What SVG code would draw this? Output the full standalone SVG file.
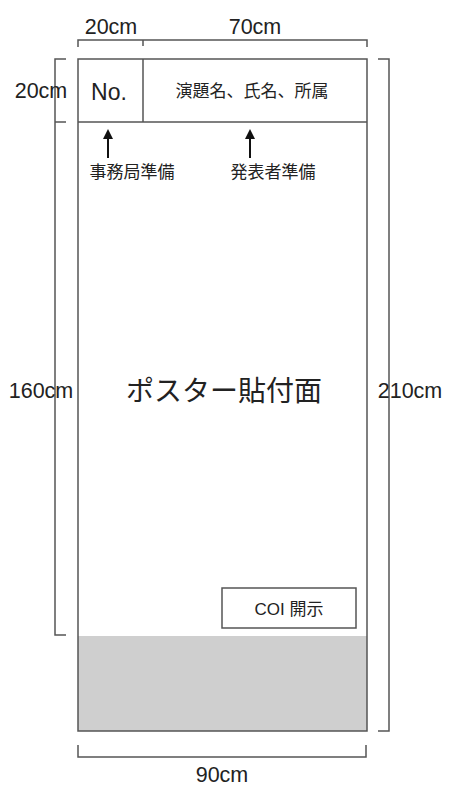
<svg xmlns="http://www.w3.org/2000/svg" width="456" height="792" viewBox="0 0 456 792">
<style>
.ln{fill:none;stroke:#555;stroke-width:1.5}
.t{font-family:"Liberation Sans","Noto Sans CJK JP",sans-serif;fill:#222}
.dim{font-size:21.5px}
</style>
<defs>
<marker id="ah" markerWidth="10" markerHeight="10" refX="8" refY="5" orient="auto" markerUnits="userSpaceOnUse" viewBox="0 0 10 10">
<path d="M0,0 L10,5 L0,10 Z" fill="#111"/>
</marker>
</defs>
<rect width="456" height="792" fill="#fff"/>
<g id="board">
<rect x="78" y="636" width="289" height="95" fill="#cfcfcf"/>
<rect class="ln" x="78" y="59" width="289" height="672"/>
<line class="ln" x1="78" y1="122" x2="367" y2="122"/>
<line class="ln" x1="143" y1="59" x2="143" y2="122"/>
</g>
<g id="no-cell"><text class="t" x="109" y="100" font-size="23" text-anchor="middle">No.</text></g>
<g id="title-cell"><text class="t" x="252" y="97" font-size="17" text-anchor="middle">演題名、氏名、所属</text></g>
<g id="poster-area"><text class="t" x="224" y="401" font-size="28" text-anchor="middle">ポスター貼付面</text></g>
<g id="coi"><rect class="ln" x="222" y="588" width="134" height="40"/><text class="t" x="289" y="615" font-size="17" text-anchor="middle">COI 開示</text></g>
<g id="label-jimukyoku"><text class="t" x="132" y="178" font-size="17" text-anchor="middle">事務局準備</text></g>
<g id="label-happyosha"><text class="t" x="273" y="178" font-size="17" text-anchor="middle">発表者準備</text></g>
<g id="dimensions">
<path class="ln" d="M78,47 V40 H367 V47 M143,40 V46"/>
<text class="t dim" x="111" y="34" text-anchor="middle">20cm</text>
<text class="t dim" x="255" y="34" text-anchor="middle">70cm</text>
<path class="ln" d="M66,59 H55 V635 H66 M55,122 H66"/>
<text class="t dim" x="41" y="98" text-anchor="middle">20cm</text>
<text class="t dim" x="41" y="398" text-anchor="middle">160cm</text>
<path class="ln" d="M378,59 H389 V731 H378"/>
<text class="t dim" x="410" y="398" text-anchor="middle">210cm</text>
<path class="ln" d="M78,745 V757 H366 V745"/>
<text class="t dim" x="222" y="782" text-anchor="middle">90cm</text>
</g>
<g id="connectors">
<line x1="108" y1="158" x2="108" y2="131" stroke="#111" stroke-width="2" marker-end="url(#ah)"/>
<line x1="250" y1="158" x2="250" y2="131" stroke="#111" stroke-width="2" marker-end="url(#ah)"/>
</g>
</svg>
